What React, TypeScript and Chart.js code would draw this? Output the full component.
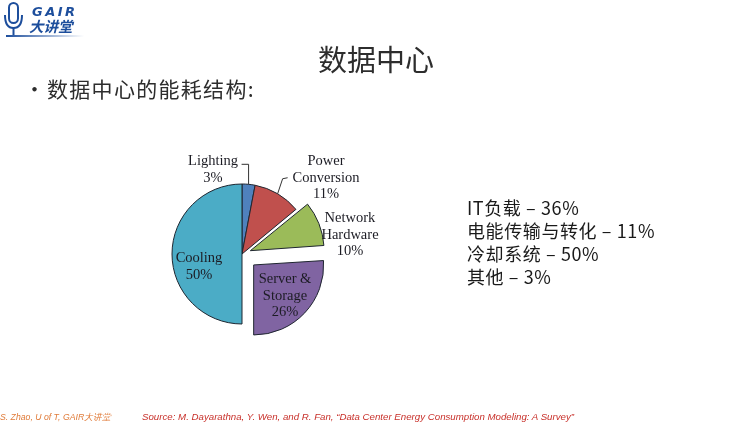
import React, { useEffect, useRef } from "react";
import { Chart, registerables } from "chart.js";

Chart.register(...registerables);

// ---- data ----
const categories = ["Lighting", "Power Conversion", "Network Hardware", "Server & Storage", "Cooling"];
const shares = [3, 11, 10, 26, 50];
// Chart.js moves an arc by offset/4 pixels
const explode = [0, 0, 36, 64, 0];
const sliceColors = ["#4F81BD", "#C0504D", "#9BBB59", "#8064A2", "#4BACC6"];
const summaryLines = ["IT负载 – 36%", "电能传输与转化 – 11%", "冷却系统 – 50%", "其他 – 3%"];

const titleText = "数据中心";
const bulletText = "数据中心的能耗结构:";
const footerLeft = "S. Zhao, U of T, GAIR大讲堂";
const footerSource = "Source: M. Dayarathna, Y. Wen, and R. Fan, \u201cData Center Energy Consumption Modeling: A Survey\u201d";

// label layout (text placement only)
const sliceLabels = [
  { lines: ["Lighting", "3%"], x: 213, y: 168 },
  { lines: ["Power", "Conversion", "11%"], x: 326, y: 177 },
  { lines: ["Network", "Hardware", "10%"], x: 350, y: 234 },
  { lines: ["Server &", "Storage", "26%"], x: 285, y: 295 },
  { lines: ["Cooling", "50%"], x: 199, y: 265 },
];

const leaderPlugin = {
  id: "leaders",
  afterDatasetsDraw(chart: any) {
    const meta = chart.getDatasetMeta(0);
    const ctx = chart.ctx as CanvasRenderingContext2D;
    const pt = (i: number) => {
      const a = meta.data[i];
      const p = a.getProps(["x", "y", "startAngle", "endAngle", "outerRadius"], true);
      const m = (p.startAngle + p.endAngle) / 2;
      return [p.x + Math.cos(m) * p.outerRadius, p.y + Math.sin(m) * p.outerRadius];
    };
    ctx.save();
    ctx.strokeStyle = "#333";
    ctx.lineWidth = 1;
    const [lx, ly] = pt(0);
    ctx.beginPath();
    ctx.moveTo(lx, ly);
    ctx.lineTo(lx, ly - 20);
    ctx.lineTo(lx - 7, ly - 20);
    ctx.stroke();
    const [px, py] = pt(1);
    ctx.beginPath();
    ctx.moveTo(px, py);
    ctx.lineTo(px + 5, py - 15);
    ctx.lineTo(px + 10, py - 16);
    ctx.stroke();
    ctx.restore();
  },
};

export default function App() {
  const ref = useRef<HTMLCanvasElement | null>(null);

  useEffect(() => {
    document.body.style.margin = "0";
    const canvas = ref.current!;
    const chart = new Chart(canvas, {
      type: "pie",
      data: {
        labels: categories,
        datasets: [
          {
            data: shares,
            backgroundColor: sliceColors,
            borderColor: "#1f2630",
            borderWidth: 1,
            offset: explode,
            radius: 70,
          } as any,
        ],
      },
      options: {
        responsive: false,
        animation: false,
        layout: { padding: { left: 142, right: 398, top: 154, bottom: 69 } },
        plugins: { legend: { display: false }, tooltip: { enabled: false } },
      },
      plugins: [leaderPlugin],
    });
    return () => chart.destroy();
  }, []);

  const serif = "'Liberation Serif', 'Times New Roman', serif";
  const cjk = "'Noto Sans CJK SC', 'Noto Sans', sans-serif";

  return (
    <div style={{ position: "fixed", left: 0, top: 0, width: 740, height: 423, background: "#ffffff", overflow: "hidden" }}>
      <canvas ref={ref} width={740} height={423} style={{ position: "absolute", left: 0, top: 0, width: 740, height: 423 }} />

      {/* logo */}
      <svg width={90} height={44} style={{ position: "absolute", left: 0, top: 0 }}>
        <defs>
          <linearGradient id="fade" x1="0" x2="1" y1="0" y2="0">
            <stop offset="0" stopColor="#1d4e9c" />
            <stop offset="1" stopColor="#1d4e9c" stopOpacity="0" />
          </linearGradient>
        </defs>
        <rect x={9} y={3} width={9} height={20} rx={4.5} fill="none" stroke="#1d4e9c" strokeWidth={2} />
        <path d="M5 15 Q5 28 13.5 28 Q22 28 22 15" fill="none" stroke="#1d4e9c" strokeWidth={2} />
        <line x1={13.5} y1={28} x2={13.5} y2={35} stroke="#1d4e9c" strokeWidth={2} />
        <rect x={6} y={35} width={78} height={2} fill="url(#fade)" />
      </svg>
      <div style={{ position: "absolute", left: 32, top: 4, fontFamily: "'DejaVu Sans', sans-serif", fontStyle: "italic", fontWeight: 700, fontSize: 13, letterSpacing: 2.5, color: "#1d4e9c" }}>GAIR</div>
      <div style={{ position: "absolute", left: 29, top: 18, fontFamily: cjk, fontStyle: "italic", fontWeight: 700, fontSize: 14.5, color: "#1d4e9c", lineHeight: "16px" }}>大讲堂</div>

      {/* title */}
      <div style={{ position: "absolute", left: 376, top: 58, transform: "translate(-50%,-50%)", fontFamily: cjk, fontSize: 29, color: "#2d2d2d", whiteSpace: "nowrap", lineHeight: "34px" }}>{titleText}</div>

      {/* bullet */}
      <div style={{ position: "absolute", left: 24, top: 88, transform: "translateY(-50%)", fontFamily: cjk, fontSize: 21, color: "#2d2d2d", whiteSpace: "nowrap", lineHeight: "26px" }}>
        <span style={{ display: "inline-block", width: 23 }}>•</span>
        <span style={{ letterSpacing: 1.3 }}>{bulletText}</span>
      </div>

      {/* slice labels */}
      {sliceLabels.map((l, i) => (
        <div key={i} style={{ position: "absolute", left: l.x, top: l.y, transform: "translate(-50%,-50%)", fontFamily: serif, fontSize: 14.5, lineHeight: "16.5px", color: "#1c1c24", textAlign: "center", whiteSpace: "nowrap" }}>
          {l.lines.map((t, j) => (
            <div key={j}>{t}</div>
          ))}
        </div>
      ))}

      {/* summary */}
      <div style={{ position: "absolute", left: 467, top: 196, fontFamily: cjk, fontSize: 18, lineHeight: "23px", color: "#1a1a1a", whiteSpace: "nowrap", letterSpacing: 0.6 }}>
        {summaryLines.map((t, i) => (
          <div key={i}>{t}</div>
        ))}
      </div>

      {/* footers */}
      <div style={{ position: "absolute", left: 0, top: 411, fontFamily: "'Liberation Sans', Arial, sans-serif", fontStyle: "italic", fontSize: 8.7, color: "#e07b39", whiteSpace: "nowrap", lineHeight: "12px" }}>{footerLeft}</div>
      <div style={{ position: "absolute", left: 142, top: 411, fontFamily: "'Liberation Sans', Arial, sans-serif", fontStyle: "italic", fontSize: 9.7, color: "#c8302a", whiteSpace: "nowrap", lineHeight: "12px" }}>{footerSource}</div>
    </div>
  );
}
